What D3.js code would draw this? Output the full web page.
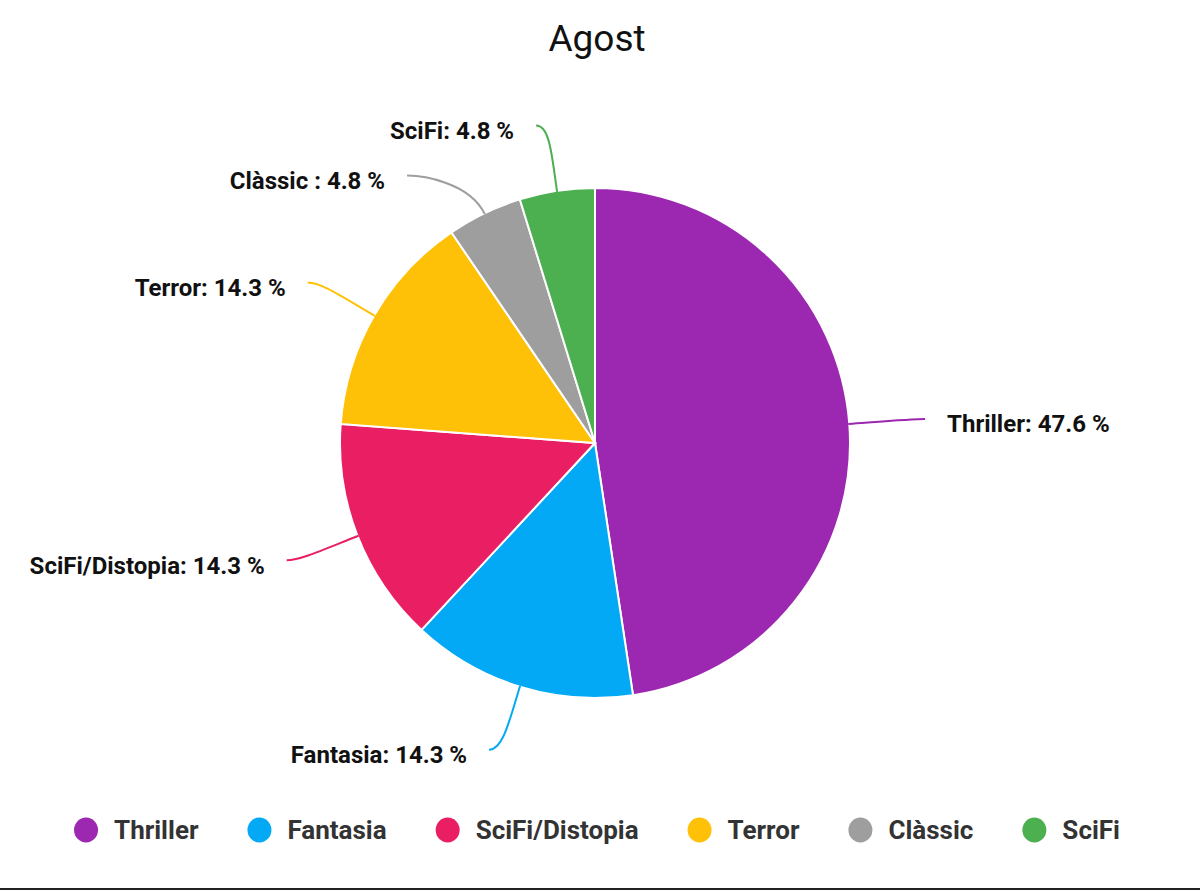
<!DOCTYPE html>
<html>
<head>
<meta charset="utf-8">
<script src="https://cdn.jsdelivr.net/npm/d3@7"></script>
<style>
  html, body { margin: 0; padding: 0; background: #fff; }
  svg { display: block; font-family: Roboto, "Noto Sans", sans-serif; }
</style>
</head>
<body>
<svg id="chart" width="1200" height="891"></svg>
<script>
const title = "Agost";
const categories = ["Thriller", "Fantasia", "SciFi/Distopia", "Terror", "Clàssic ", "SciFi"];
const values = [10, 3, 3, 3, 1, 1];
const colors = ["#9C27B0", "#03A9F4", "#E91E63", "#FFC107", "#9E9E9E", "#4CAF50"];

const W = 1200, H = 891;
const cx = 595, cy = 443, R = 255, RX = 331, RY = 321;
const svg = d3.select("#chart");

svg.append("text")
  .attr("x", 597).attr("y", 51)
  .attr("text-anchor", "middle")
  .attr("font-size", 37)
  .attr("fill", "#111")
  .text(title);

const total = d3.sum(values);
const data = categories.map((c, i) => ({ name: c, value: values[i], color: colors[i] }));
const pie = d3.pie().sort(null).value(d => d.value);
const arcs = pie(data);
const arc = d3.arc().innerRadius(0).outerRadius(R);

const g = svg.append("g").attr("transform", `translate(${cx},${cy})`);
g.selectAll("path.slice").data(arcs).join("path")
  .attr("class", "slice")
  .attr("d", arc)
  .attr("fill", d => d.data.color)
  .attr("stroke", "#fff")
  .attr("stroke-width", 2);

const pt = (a, r) => [r * Math.sin(a), -r * Math.cos(a)];

// label layout on an ellipse around the pie
const labels = arcs.map(d => {
  const mid = (d.startAngle + d.endAngle) / 2;
  const side = Math.sin(mid) >= 0 ? 1 : -1;
  return { d, mid, side, x: RX * Math.sin(mid), y: -RY * Math.cos(mid) };
});
[1, -1].forEach(s => {
  const grp = labels.filter(l => l.side === s).sort((a, b) => a.y - b.y);
  for (let i = 1; i < grp.length; i++) {
    if (grp[i].y < grp[i - 1].y + 50) {
      grp[i].y = grp[i - 1].y + 50;
      const t = grp[i].y / RY;
      if (Math.abs(t) < 1) grp[i].x = s * RX * Math.sqrt(1 - t * t);
    }
  }
});
// slight outward hook for labels near the top and bottom
labels.forEach(l => {
  const c = l.y / RY;
  l.x += l.side * 10 * Math.pow(c, 4);
});

labels.forEach(l => {
  const [sx, sy] = pt(l.mid, R - 1);
  const [c1x, c1y] = pt(l.mid, R + 35);
  const c2x = l.x - l.side * 14, c2y = l.y;
  const p = d3.path();
  p.moveTo(sx, sy);
  p.bezierCurveTo(c1x, c1y, c2x, c2y, l.x, l.y);
  g.append("path")
    .attr("d", p.toString())
    .attr("fill", "none")
    .attr("stroke", l.d.data.color)
    .attr("stroke-width", 2);
  const pct = (l.d.data.value / total * 100).toFixed(1);
  g.append("text")
    .attr("x", l.x + l.side * 22)
    .attr("y", l.y + 5)
    .attr("dy", "0.35em")
    .attr("text-anchor", l.side > 0 ? "start" : "end")
    .attr("font-size", 24)
    .attr("font-weight", "bold")
    .attr("fill", "#111")
    .text(`${l.d.data.name}: ${pct} %`);
});

// legend
const legend = svg.append("g");
const items = legend.selectAll("g.item").data(data).join("g").attr("class", "item");
items.append("ellipse")
  .attr("rx", 12).attr("ry", 12.5)
  .attr("fill", d => d.color);
const lt = items.append("text")
  .attr("x", 28)
  .attr("dy", "0.35em")
  .attr("font-size", 26)
  .attr("font-weight", "bold")
  .attr("fill", "#333")
  .text(d => d.name.trim());
const widths = [];
lt.each(function () { widths.push(this.getComputedTextLength()); });
const gap = 49;
const totalW = d3.sum(widths.map(w => 40 + w)) + gap * (widths.length - 1);
let x0 = 597 - totalW / 2 + 12;
items.attr("transform", (d, i) => {
  const x = x0;
  x0 += 40 + widths[i] + gap;
  return `translate(${x},830)`;
});

svg.append("line")
  .attr("x1", 0).attr("x2", W)
  .attr("y1", 889).attr("y2", 889)
  .attr("stroke", "#222").attr("stroke-width", 2);
</script>
</body>
</html>
